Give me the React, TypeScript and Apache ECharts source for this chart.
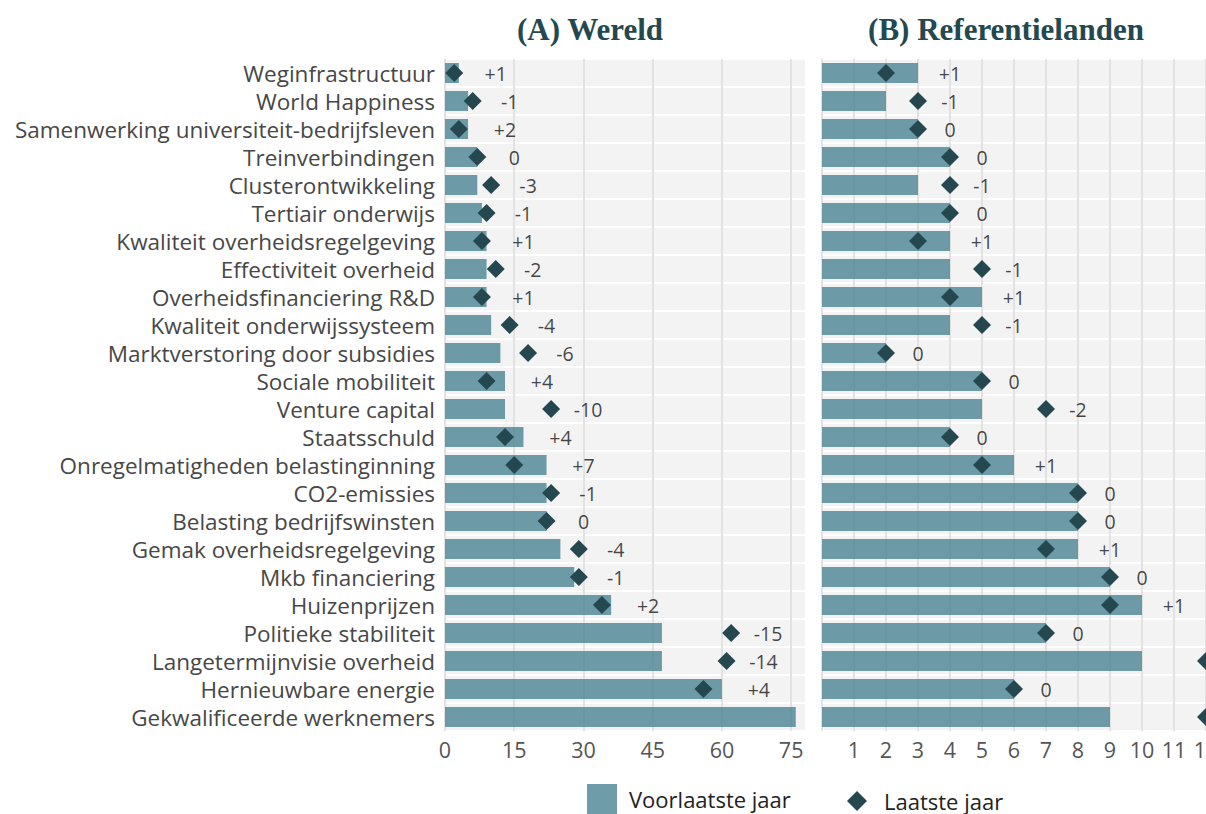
import React, { useEffect, useRef } from "react";
import * as echarts from "echarts";

const categories = [
  "Weginfrastructuur",
  "World Happiness",
  "Samenwerking universiteit-bedrijfsleven",
  "Treinverbindingen",
  "Clusterontwikkeling",
  "Tertiair onderwijs",
  "Kwaliteit overheidsregelgeving",
  "Effectiviteit overheid",
  "Overheidsfinanciering R&D",
  "Kwaliteit onderwijssysteem",
  "Marktverstoring door subsidies",
  "Sociale mobiliteit",
  "Venture capital",
  "Staatsschuld",
  "Onregelmatigheden belastinginning",
  "CO2-emissies",
  "Belasting bedrijfswinsten",
  "Gemak overheidsregelgeving",
  "Mkb financiering",
  "Huizenprijzen",
  "Politieke stabiliteit",
  "Langetermijnvisie overheid",
  "Hernieuwbare energie",
  "Gekwalificeerde werknemers",
];

// (A) Wereld — rank previous year (bars) and latest year (diamonds)
const worldPrev = [3, 5, 5, 7, 7, 8, 9, 9, 9, 10, 12, 13, 13, 17, 22, 22, 22, 25, 28, 36, 47, 47, 60, 76];
const worldLatest: (number | null)[] = [2, 6, 3, 7, 10, 9, 8, 11, 8, 14, 18, 9, 23, 13, 15, 23, 22, 29, 29, 34, 62, 61, 56, null];

// (B) Referentielanden
const refPrev = [3, 2, 3, 4, 3, 4, 4, 4, 5, 4, 2, 5, 5, 4, 6, 8, 8, 8, 9, 10, 7, 10, 6, 9];
const refLatest: (number | null)[] = [2, 3, 3, 4, 4, 4, 3, 5, 4, 5, 2, 5, 7, 4, 5, 8, 8, 7, 9, 9, 7, 12, 6, 12];

const worldTicks = [0, 15, 30, 45, 60, 75];
const refTicks = [1, 2, 3, 4, 5, 6, 7, 8, 9, 10, 11, 12];

const titles = ["(A) Wereld", "(B) Referentielanden"];
const legendNames = ["Voorlaatste jaar", "Laatste jaar"];

const BAR_COLOR = "#4a8593";
const DIAMOND_COLOR = "#254850";
const BAND_COLOR = "#f3f3f3";
const GRID_COLOR = "#e2e2e2";
const FONT = "'Open Sans', Lato, 'Noto Sans', sans-serif";

const CANVAS_W = 1230; // chart is wider than the visible page; right part is cut off

function fmtChange(d: number) {
  if (d > 0) return "+" + d;
  return String(d);
}

function labelData(prev: number[], latest: (number | null)[], offset: number) {
  return prev
    .map((p, i) => {
      const l = latest[i];
      if (l == null) return null;
      return { value: [Math.max(p, l) + offset, i], change: p - l };
    })
    .filter((x) => x !== null);
}

function bandSeries(gridIndex: number) {
  return {
    type: "custom",
    xAxisIndex: gridIndex,
    yAxisIndex: gridIndex,
    z: -1,
    silent: true,
    data: categories.map((_, i) => [0, i]),
    encode: { x: 0, y: 1 },
    renderItem: (params: any, api: any) => {
      const y = api.coord([0, api.value(1)])[1];
      const cs = params.coordSys;
      return {
        type: "rect",
        shape: { x: cs.x, y: y - 13, width: cs.width, height: 26 },
        style: { fill: BAND_COLOR },
      };
    },
  };
}

export default function App() {
  const ref = useRef<HTMLDivElement>(null);

  useEffect(() => {
    if (!ref.current) return;
    const chart = echarts.init(ref.current, undefined, { renderer: "svg" });

    const worldMax = 78;
    const refMax = 12.5;

    const xAxisBase = {
      type: "value",
      axisLine: { show: false },
      axisTick: { show: false },
      splitLine: {
        show: true,
        showMaxLine: false,
        lineStyle: { color: GRID_COLOR, width: 2 },
      },
      axisLabel: {
        fontFamily: FONT,
        fontSize: 21.5,
        color: "#555555",
        margin: 7,
        showMaxLabel: false,
      },
    };

    const titleStyle = {
      fontFamily: "'Liberation Serif', 'DejaVu Serif', serif",
      fontWeight: "bold",
      fontSize: 31,
      color: "#23484f",
    };

    const legendText = {
      fontFamily: FONT,
      fontSize: 22,
      color: "#222",
      lineHeight: 24,
    };

    const option: any = {
      animation: false,
      backgroundColor: "#ffffff",
      title: [
        { text: titles[0], left: 585, top: 9, textAlign: "center", textStyle: titleStyle },
        { text: titles[1], left: 1001, top: 9, textAlign: "center", textStyle: titleStyle },
      ],
      legend: [
        {
          data: [legendNames[0]],
          left: 582,
          top: 779,
          itemWidth: 30,
          itemHeight: 30,
          icon: "rect",
          textStyle: { ...legendText, padding: [0, 0, 0, 7] },
          selectedMode: false,
        },
        {
          data: [legendNames[1]],
          left: 842,
          top: 784,
          itemWidth: 20,
          itemHeight: 20,
          icon: "diamond",
          textStyle: { ...legendText, padding: [0, 0, 0, 12] },
          selectedMode: false,
        },
      ],
      grid: [
        { left: 445, right: CANVAS_W - 805, top: 59, bottom: 83, containLabel: false },
        { left: 822, right: CANVAS_W - 1222, top: 59, bottom: 83, containLabel: false },
      ],
      xAxis: [
        {
          ...xAxisBase,
          gridIndex: 0,
          min: 0,
          max: worldMax,
          interval: worldTicks[1] - worldTicks[0],
        },
        {
          ...xAxisBase,
          gridIndex: 1,
          min: 0,
          max: refMax,
          interval: refTicks[1] - refTicks[0],
          axisLabel: {
            ...xAxisBase.axisLabel,
            formatter: (v: number) => (refTicks.includes(v) ? String(v) : ""),
          },
        },
      ],
      yAxis: [
        {
          type: "category",
          gridIndex: 0,
          data: categories,
          inverse: true,
          axisLine: { show: false },
          axisTick: { show: false },
          splitLine: { show: false },
          axisLabel: {
            fontFamily: FONT,
            fontSize: 22.5,
            color: "#474747",
            margin: 10,
            interval: 0,
            hideOverlap: false,
          },
        },
        {
          type: "category",
          gridIndex: 1,
          data: categories,
          inverse: true,
          axisLine: { show: false },
          axisTick: { show: false },
          splitLine: { show: false },
          axisLabel: { show: false },
        },
      ],
      series: [
        bandSeries(0),
        bandSeries(1),
        {
          name: legendNames[0],
          type: "bar",
          xAxisIndex: 0,
          yAxisIndex: 0,
          data: worldPrev,
          barWidth: 20,
          itemStyle: { color: BAR_COLOR, opacity: 0.8 },
        },
        {
          name: legendNames[0],
          type: "bar",
          xAxisIndex: 1,
          yAxisIndex: 1,
          data: refPrev,
          barWidth: 20,
          itemStyle: { color: BAR_COLOR, opacity: 0.8 },
        },
        {
          name: legendNames[1],
          type: "scatter",
          xAxisIndex: 0,
          yAxisIndex: 0,
          symbol: "diamond",
          symbolSize: 18,
          data: worldLatest.map((v, i) => (v == null ? null : [v, i])).filter((x) => x !== null),
          itemStyle: { color: DIAMOND_COLOR, opacity: 1 },
          z: 4,
        },
        {
          name: legendNames[1],
          type: "scatter",
          xAxisIndex: 1,
          yAxisIndex: 1,
          symbol: "diamond",
          symbolSize: 18,
          data: refLatest.map((v, i) => (v == null ? null : [v, i])).filter((x) => x !== null),
          itemStyle: { color: DIAMOND_COLOR, opacity: 1 },
          z: 4,
        },
        {
          type: "scatter",
          xAxisIndex: 0,
          yAxisIndex: 0,
          symbolSize: 1,
          itemStyle: { color: "rgba(0,0,0,0)" },
          silent: true,
          data: labelData(worldPrev, worldLatest, 8),
          label: {
            show: true,
            position: "inside",
            fontFamily: FONT,
            fontSize: 19.5,
            color: "#151515",
            formatter: (p: any) => fmtChange(p.data.change),
          },
          z: 5,
        },
        {
          type: "scatter",
          xAxisIndex: 1,
          yAxisIndex: 1,
          symbolSize: 1,
          itemStyle: { color: "rgba(0,0,0,0)" },
          silent: true,
          data: labelData(refPrev, refLatest, 1),
          label: {
            show: true,
            position: "inside",
            fontFamily: FONT,
            fontSize: 19.5,
            color: "#151515",
            formatter: (p: any) => fmtChange(p.data.change),
          },
          z: 5,
        },
      ],
    };

    chart.setOption(option);
    return () => chart.dispose();
  }, []);

  return (
    <div
      style={{
        position: "absolute",
        left: 0,
        top: 0,
        width: 1206,
        height: 814,
        overflow: "hidden",
      }}
    >
      <div ref={ref} style={{ width: CANVAS_W, height: 814 }} />
    </div>
  );
}
